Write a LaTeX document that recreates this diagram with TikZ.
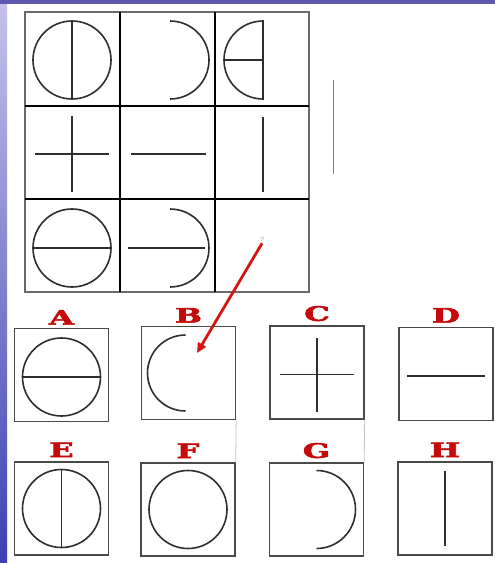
\documentclass[tikz,border=0pt]{standalone}
\usepackage{fontspec}
\usepackage{xcolor}
\usepackage{tikz}
\usetikzlibrary{arrows.meta,positioning}

\newfontfamily\letterfont{DejaVu Serif}[BoldFeatures={FakeBold=2.5}]

\definecolor{ink}{HTML}{2E2E2E}
\definecolor{boxgray}{HTML}{4A4A4A}
\definecolor{gridgray}{HTML}{6A6A6A}
\definecolor{letterred}{HTML}{C40A0A}
\definecolor{arrowred}{HTML}{D41515}
\definecolor{barpurple}{HTML}{5E58AE}
\definecolor{stripTop}{HTML}{C6C2EC}
\definecolor{stripMid}{HTML}{A7A3DE}
\definecolor{stripBot}{HTML}{3A42B2}

\begin{document}
\begin{tikzpicture}[
    x=1pt, y=-1pt,
    cell/.style={rectangle, inner sep=0pt, minimum width=90pt, minimum height=90pt},
    optbox/.style={rectangle, draw=boxgray, line width=1.4pt, inner sep=0pt,
        minimum width=94pt, minimum height=93pt},
    fig/.style={draw=ink, line width=1.6pt},
    letter/.style={text=letterred, inner sep=0pt,
        font=\letterfont\fontsize{20}{20}\selectfont\bfseries},
    qmark/.style={text=gray!90, inner sep=0pt, font=\small},
    arrow/.style={-{Triangle[length=10pt,width=9pt]}, line width=2.8pt, draw=arrowred},
    faint/.style={draw=gray!45, line width=0.8pt}
]

    % slide background
    \useasboundingbox (0,0) rectangle (495,563);
    \fill[white] (0,0) rectangle (495,563);
    \shade[top color=stripTop, middle color=stripMid, bottom color=stripBot] (0,0) rectangle (7,563);
    \fill[barpurple] (0,0) rectangle (495,3.5);

    % matrix grid
    \draw[gridgray, line width=1.6pt] (25,12) rectangle (309,292);
    \draw[black, line width=2.8pt] (120,12) -- (120,292);
    \draw[black, line width=2.8pt] (215,12) -- (215,292);
    \draw[black, line width=2.4pt] (25,106) -- (309,106);
    \draw[black, line width=2.2pt] (25,199) -- (309,199);

    \node[cell] (c11) at (72,60) {};
    \node[cell] (c12) at (170,60) {};
    \node[cell] (c13) at (263,60) {};
    \node[cell] (c21) at (72,154) {};
    \node[cell] (c22) at (168.5,154) {};
    \node[cell] (c23) at (263,154) {};
    \node[cell] (c31) at (72,248) {};
    \node[cell] (c32) at (170,248) {};
    \node[cell] (c33) at (262,246) {};

    % row 1
    \draw[fig] (c11) circle[radius=39];
    \draw[fig] (c11.center) ++(0,-39) -- ++(0,78);
    \draw[fig] (c12.center) ++(0,-39) arc[start angle=-90, end angle=90, radius=39];
    \draw[fig] (c13.center) ++(0,-39) arc[start angle=-90, end angle=-270, radius=39] -- cycle;
    \draw[fig] (c13.center) -- ++(-39,0);

    % row 2
    \draw[fig] (c21.center) ++(-37,0) -- ++(74,0);
    \draw[fig] (c21.center) ++(0,-38) -- ++(0,76);
    \draw[fig] (c22.center) ++(-37.5,0) -- ++(75,0);
    \draw[fig] (c23.center) ++(0,-37.5) -- ++(0,75);

    % row 3
    \draw[fig] (c31) circle[radius=39];
    \draw[fig] (c31.center) ++(-39,0) -- ++(78,0);
    \draw[fig] (c32.center) ++(0,-39) arc[start angle=-90, end angle=90, radius=39];
    \draw[fig] (c32.center) ++(-42,0) -- ++(77,0);

    % stray line beside the grid
    \draw[gray, line width=1pt] (333,80) -- (333,174);

    % answer options
    \node[optbox] (optA) at (61.5,375) {};
    \node[optbox] (optB) at (188.5,373) {};
    \node[optbox] (optC) at (317,372.5) {};
    \node[optbox] (optD) at (446,374) {};
    \node[optbox] (optE) at (61.5,508.5) {};
    \node[optbox] (optF) at (188,509.5) {};
    \node[optbox] (optG) at (316.5,509.5) {};
    \node[optbox] (optH) at (445,508.5) {};

    \node[letter, above=3pt of optA] (labA) {\scalebox{1.6}[1]{A}};
    \node[letter, above=3pt of optB] (labB) {\scalebox{1.6}[1]{B}};
    \node[letter, above=4pt of optC] (labC) {\scalebox{1.6}[1]{C}};
    \node[letter, above=4pt of optD] (labD) {\scalebox{1.6}[1]{D}};
    \node[letter, above=4pt of optE] (labE) {\scalebox{1.6}[1]{E}};
    \node[letter, above=4pt of optF] (labF) {\scalebox{1.6}[1]{F}};
    \node[letter, above=4pt of optG] (labG) {\scalebox{1.6}[1]{G}};
    \node[letter, above=4pt of optH] (labH) {\scalebox{1.6}[1]{H}};

    \draw[fig] (optA.center) ++(0,2) circle[radius=39];
    \draw[fig] (optA.center) ++(-39,2) -- ++(78,0);
    \draw[fig] (optB.center) ++(-3,-38) arc[start angle=-90, end angle=-270, radius=38];
    \draw[fig] (optC.center) ++(-37,2) -- ++(74,0);
    \draw[fig] (optC.center) ++(0,-35) -- ++(0,74);
    \draw[fig] (optD.center) ++(-39,2) -- ++(78,0);
    \draw[fig] (optE) circle[radius=39];
    \draw[fig] (optE.center) ++(0,-39) -- ++(0,78);
    \draw[fig] (optF) circle[radius=39];
    \draw[fig] (optG.center) ++(0,-39) arc[start angle=-90, end angle=90, radius=39];
    \draw[fig] (optH.center) ++(0,-37.5) -- ++(0,75);

    \draw[faint] (optB.south east) -- (optF.north east);
    \draw[faint] (optC.south east) -- (optG.north east);

    % question mark and arrow
    \node[qmark] (qm) at (262,240) {?};
    \coordinate (hit) at (197,353);
    \draw[arrow] (qm.south) -- (hit);

\end{tikzpicture}
\end{document}
